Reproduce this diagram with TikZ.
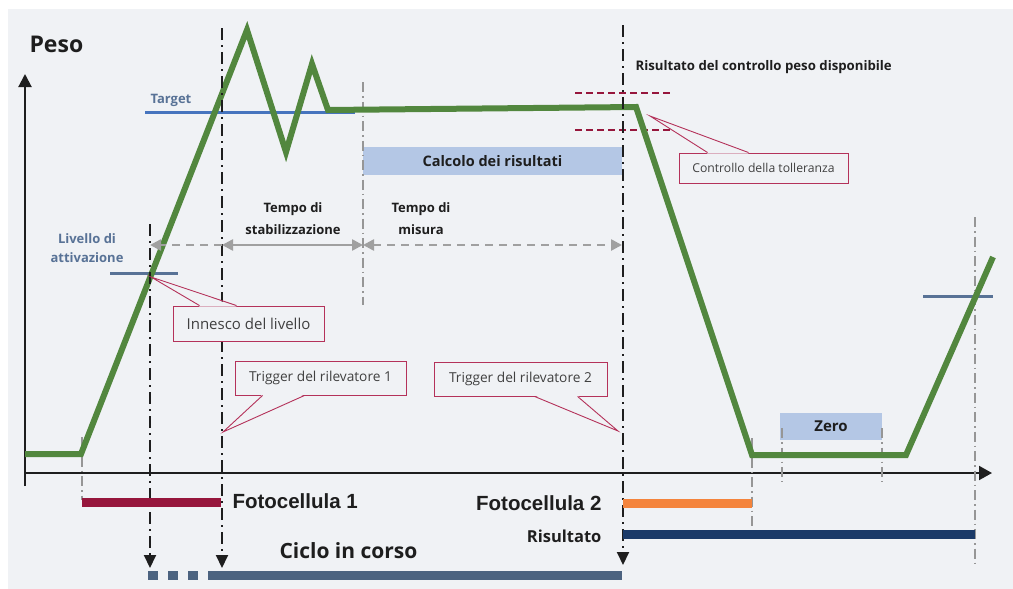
\documentclass[tikz,border=0pt]{standalone}
\usepackage{fontspec}
\setmainfont{Open Sans}
\newfontfamily\arialfont{Liberation Sans}
\usetikzlibrary{arrows.meta,calc}

\definecolor{bgcol}{RGB}{240,242,245}
\definecolor{pesogreen}{RGB}{82,135,62}
\definecolor{targetblue}{RGB}{70,116,190}
\definecolor{slate}{RGB}{88,114,150}
\definecolor{crimson}{RGB}{150,22,60}
\definecolor{calloutred}{RGB}{180,50,90}
\definecolor{fotoorange}{RGB}{244,132,60}
\definecolor{navy}{RGB}{27,58,104}
\definecolor{cyclebar}{RGB}{76,99,128}
\definecolor{calcfill}{RGB}{180,199,229}
\definecolor{dimgray}{RGB}{160,160,160}
\definecolor{guidegray}{RGB}{150,150,150}
\definecolor{textdark}{RGB}{30,30,30}
\definecolor{textgray}{RGB}{64,64,64}

\begin{document}
\begin{tikzpicture}[x=1pt,y=-1pt,
    weight/.style={line width=6pt,draw=pesogreen},
    guide/.style={guidegray,line width=1.2pt,dash pattern=on 10pt off 4pt on 1.5pt off 4pt},
    trig/.style={textdark,line width=2pt,dash pattern=on 12pt off 5pt on 2pt off 5pt,-{Triangle[length=13pt,width=12pt]}},
    dim/.style={dimgray,line width=2.5pt,>={Triangle[length=11pt,width=11pt]}},
    callout/.style={draw=calloutred,line width=0.9pt,fill=bgcol,inner sep=0pt,text=textgray,font=\fontsize{13.7}{16}\selectfont},
    callline/.style={calloutred,line width=0.9pt},
    lbl/.style={text=textdark,font=\bfseries\fontsize{13}{22}\selectfont,align=center},
    bar/.style={line width=9pt}]

  \useasboundingbox (0,0) rectangle (1013,589);
  \fill[white] (0,0) rectangle (1013,589);
  \fill[bgcol] (8,9) rectangle (1013,589);

  % axes
  \draw[textdark,line width=2pt,-{Triangle[length=13pt,width=13pt]}] (25,486) -- (25,74);
  \draw[textdark,line width=2pt,-{Triangle[length=13pt,width=14pt]}] (25,473) -- (992,473);
  \node[text=textdark,font=\bfseries\fontsize{23}{26}\selectfont,anchor=base west] (peso) at (26,52) {Peso};

  % boxes behind the guides
  \node[fill=calcfill,minimum width=259pt,minimum height=28pt,inner sep=0pt,
        font=\bfseries\fontsize{14.5}{18}\selectfont,text=textdark] (calcolo) at (492.5,161) {Calcolo dei risultati};
  \node[fill=calcfill,minimum width=102pt,minimum height=27pt,inner sep=0pt,
        font=\bfseries\fontsize{15}{18}\selectfont,text=textdark] (zero) at (831,426) {Zero};

  % grey guides
  \draw[guide] (363,82) -- (363,305);
  \draw[guide] (82,437) -- (82,500);
  \draw[guide] (752,438) -- (752,528);
  \draw[guide] (782,428) -- (782,482);
  \draw[guide] (882,428) -- (882,482);
  \draw[guide] (975,217) -- (975,565);

  % levels
  \draw[targetblue,line width=3pt] (145,112) -- (355,112);
  \node[text=slate,font=\bfseries\fontsize{13}{15}\selectfont,anchor=base west] (target) at (147,103) {Target};
  \draw[slate,line width=3pt] (110,273) -- (178,273);
  \node[text=slate,font=\bfseries\fontsize{13}{19}\selectfont,align=center] (livello) at (87,248) {Livello di\\attivazione};
  \draw[slate,line width=3pt] (923,296) -- (993,296);

  % tolerance
  \draw[crimson,line width=2pt,dash pattern=on 7pt off 4pt] (575,93) -- (672,93);
  \draw[crimson,line width=2pt,dash pattern=on 7pt off 4pt] (575,130) -- (672,130);

  % weight signal
  \draw[weight] (25,454) -- (81,454) -- (247,30) -- (286,152) -- (312,64)
    -- (328,110) -- (636,107) -- (752,455) -- (906,455) -- (993,257);

  % trigger lines
  \coordinate (lvl) at (150,245);
  \coordinate (st) at (222,245);
  \coordinate (ms) at (363,245);
  \coordinate (rs) at (622,245);
  \draw[trig] (150,224) -- (150,568);
  \draw[trig] (222,28) -- (222,568);
  \draw[trig] (623,25) -- (623,565);

  % times
  \draw[dim,dash pattern=on 8pt off 6pt,->] (st) -- (lvl);
  \draw[dim,<->] (st) -- (ms);
  \draw[dim,dash pattern=on 8pt off 6pt,<->] (ms) -- (rs);
  \node[lbl] (stab) at (293,219) {Tempo di\\stabilizzazione};
  \node[lbl] (misura) at (421,219) {Tempo di\\misura};
  \node[text=textdark,font=\bfseries\fontsize{13.2}{15}\selectfont,anchor=base west] (disp) at (632,70) {Risultato del controllo peso disponibile};

  % callouts
  \node[callout,minimum width=151pt,minimum height=35pt,font=\fontsize{15}{17}\selectfont] (innesco) at (248.5,323.5) {Innesco del livello};
  \coordinate (innescotip) at (151,277);
  \fill[bgcol] ([xshift=27pt,yshift=-1pt]innesco.north west) -- (innescotip) -- ([xshift=64pt,yshift=-1pt]innesco.north west) -- cycle;
  \draw[callline] ([xshift=27pt]innesco.north west) -- (innescotip) -- ([xshift=64pt]innesco.north west);

  \node[callout,minimum width=169pt,minimum height=30pt,font=\fontsize{12.2}{14}\selectfont] (toll) at (763.5,168) {Controllo della tolleranza};
  \coordinate (tolltip) at (650,116);
  \fill[bgcol] ([xshift=29pt,yshift=-1pt]toll.north west) -- (tolltip) -- ([xshift=70pt,yshift=-1pt]toll.north west) -- cycle;
  \draw[callline] ([xshift=29pt]toll.north west) -- (tolltip) -- ([xshift=70pt]toll.north west);

  \node[callout,minimum width=171pt,minimum height=34pt] (trig1) at (320.5,378) {Trigger del rilevatore 1};
  \coordinate (trig1tip) at (223,432);
  \fill[bgcol] ([xshift=28pt,yshift=1pt]trig1.south west) -- (trig1tip) -- ([xshift=70pt,yshift=1pt]trig1.south west) -- cycle;
  \draw[callline] ([xshift=28pt]trig1.south west) -- (trig1tip) -- ([xshift=70pt]trig1.south west);

  \node[callout,minimum width=173pt,minimum height=34pt] (trig2) at (520.5,379) {Trigger del rilevatore 2};
  \coordinate (trig2tip) at (618,431);
  \fill[bgcol] ([xshift=101pt,yshift=1pt]trig2.south west) -- (trig2tip) -- ([xshift=144pt,yshift=1pt]trig2.south west) -- cycle;
  \draw[callline] ([xshift=101pt]trig2.south west) -- (trig2tip) -- ([xshift=144pt]trig2.south west);

  % bars
  \draw[bar,crimson] (82,502) -- (221,502);
  \node[text=textdark,font=\arialfont\bfseries\fontsize{20.5}{24}\selectfont,anchor=base west] (foto1) at (229,508) {Fotocellula 1};
  \draw[bar,fotoorange] (623,503) -- (752,503);
  \node[text=textdark,font=\arialfont\bfseries\fontsize{20.5}{24}\selectfont,anchor=base east] (foto2) at (605,510) {Fotocellula 2};
  \draw[bar,navy] (623,534) -- (975,534);
  \node[text=textdark,font=\bfseries\fontsize{16.5}{19}\selectfont,anchor=base east] (risultato) at (605,542) {Risultato};
  \draw[bar,cyclebar,dash pattern=on 10pt off 10pt] (148,575) -- (218,575);
  \draw[bar,cyclebar] (218,575) -- (622,575);
  \node[text=textdark,font=\bfseries\fontsize{21}{24}\selectfont,anchor=base west] (ciclo) at (276,558) {Ciclo in corso};

\end{tikzpicture}
\end{document}
